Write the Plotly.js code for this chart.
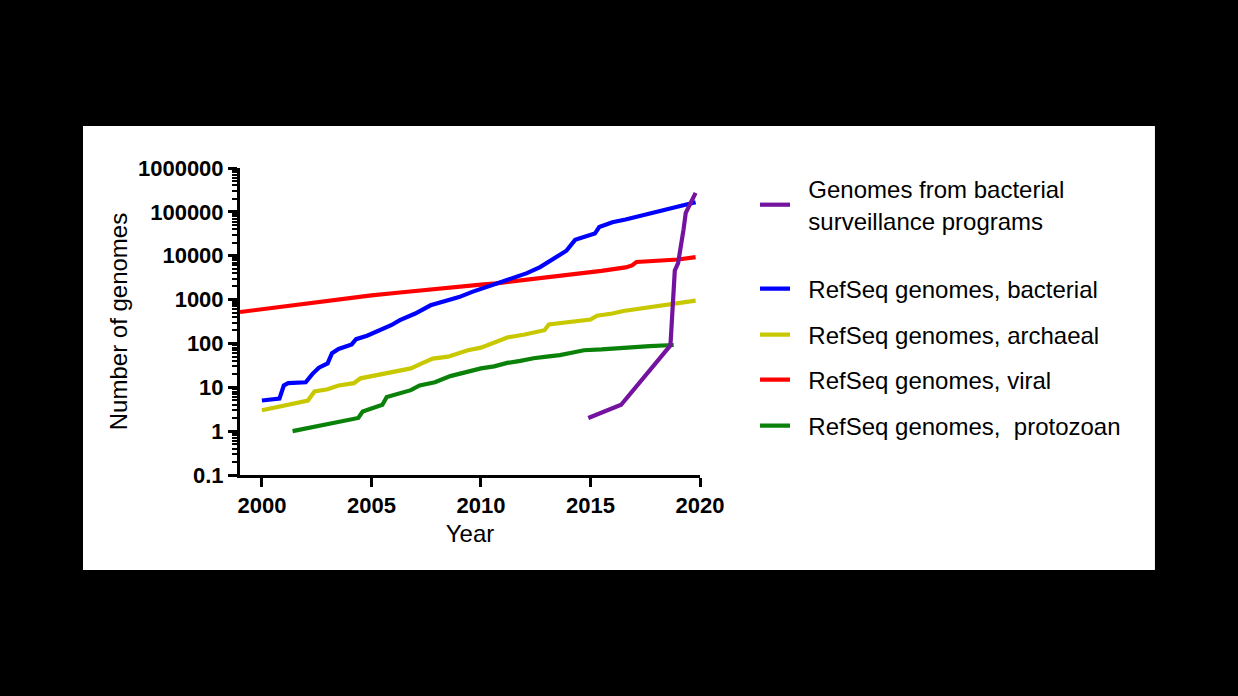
<!DOCTYPE html>
<html>
<head>
<meta charset="utf-8">
<script src="https://cdn.plot.ly/plotly-3.0.1.min.js"></script>
<style>html,body{margin:0;padding:0;background:#000;}</style>
</head>
<body>
<div id="chart" style="width:1238px;height:696px;"></div>
<script>
// ---- Data ----
const purX = [2014.9, 2016.4, 2018.65, 2018.75, 2018.85, 2019.0, 2019.1, 2019.25, 2019.35, 2019.55, 2019.8];
const purY = [2, 4, 90, 600, 4600, 6800, 13000, 40000, 95000, 160000, 270000];

const bluX = [2000.0, 2000.8, 2001.0, 2001.2, 2002.0, 2002.3, 2002.6, 2003.0, 2003.2, 2003.5, 2004.1, 2004.3, 2004.8, 2005.3, 2005.9, 2006.3, 2007.0, 2007.7, 2008.3, 2009.0, 2009.6, 2010.2, 2010.7, 2011.4, 2012.1, 2012.7, 2013.2, 2013.9, 2014.3, 2015.2, 2015.4, 2016.0, 2016.6, 2017.2, 2018.0, 2018.7, 2019.3, 2019.8];
const bluY = [5, 5.5, 11, 12.5, 13, 20, 28, 35, 60, 75, 95, 125, 150, 190, 260, 340, 480, 740, 900, 1140, 1500, 1900, 2350, 3200, 4000, 5500, 7900, 13000, 23000, 32000, 45000, 58000, 67000, 80000, 100000, 120000, 145000, 165000];

const yelX = [2000.0, 2002.1, 2002.4, 2003.0, 2003.5, 2004.2, 2004.5, 2005.3, 2006.0, 2006.8, 2007.3, 2007.8, 2008.5, 2009.4, 2010.0, 2010.9, 2011.2, 2012.0, 2012.9, 2013.1, 2014.0, 2015.0, 2015.3, 2016.0, 2016.5, 2017.3, 2018.0, 2019.0, 2019.8];
const yelY = [3, 5, 8, 9, 11, 12.4, 16, 19, 23, 27, 35, 45, 50, 70, 80, 118, 137, 160, 200, 270, 300, 350, 430, 480, 550, 620, 700, 800, 950];

const redX = [1999.0, 2001.0, 2003.1, 2005.0, 2006.3, 2008.0, 2010.0, 2010.7, 2012.0, 2013.0, 2014.2, 2015.5, 2016.6, 2016.9, 2017.1, 2018.0, 2019.0, 2019.8];
const redY = [520, 700, 960, 1250, 1450, 1800, 2200, 2350, 2800, 3100, 3600, 4500, 5400, 6000, 7200, 7600, 8200, 9300];

const grnX = [2001.4, 2004.4, 2004.6, 2004.9, 2005.5, 2005.7, 2006.3, 2006.8, 2007.2, 2007.9, 2008.6, 2009.3, 2010.0, 2010.6, 2011.2, 2011.8, 2012.4, 2013.0, 2013.6, 2014.2, 2014.7, 2015.5, 2016.2, 2017.0, 2017.7, 2018.8];
const grnY = [1, 2, 2.8, 3.2, 4, 6, 7.5, 8.6, 11, 13, 18, 22, 27, 30, 36, 40, 46, 50, 54, 62, 70, 73, 78, 82, 87, 92];

const seriesNames = [
  "&nbsp;&nbsp;Genomes from bacterial<br>&nbsp;&nbsp;surveillance programs",
  "&nbsp;&nbsp;RefSeq genomes, bacterial",
  "&nbsp;&nbsp;RefSeq genomes, archaeal",
  "&nbsp;&nbsp;RefSeq genomes, viral",
  "&nbsp;&nbsp;RefSeq genomes,&nbsp; protozoan"
];
const xTickVals = [2000, 2005, 2010, 2015, 2020];
const xTickText = ["2000", "2005", "2010", "2015", "2020"];
const yTickVals = [0.1, 1, 10, 100, 1000, 10000, 100000, 1000000];
const yTickText = ["0.1", "1", "10", "100", "1000", "10000", "100000", "1000000"];

// minor log ticks (2..9 in each decade)
const yMinor = [];
yTickVals.slice(0, -1).forEach(d => { for (let k = 2; k <= 9; k++) yMinor.push(d * k); });

const FONT = "Liberation Sans, Arial, sans-serif";
const LW = 4.2;

function tr(x, y, name, color, leg) {
  return {x: x, y: y, name: name, type: 'scatter', mode: 'lines',
    line: {color: color, width: LW}, legend: leg, hoverinfo: 'skip'};
}

const data = [
  tr(redX, redY, seriesNames[3], '#FF0000', 'legend4'),
  tr(yelX, yelY, seriesNames[2], '#C8C800', 'legend3'),
  tr(grnX, grnY, seriesNames[4], '#0A820A', 'legend5'),
  tr(bluX, bluY, seriesNames[1], '#0000FF', 'legend2'),
  tr(purX, purY, seriesNames[0], '#7413A0', 'legend')
];

function leg(y) {
  return {x: 1.1196, y: y, xanchor: 'left', yanchor: 'middle', bgcolor: 'rgba(0,0,0,0)',
    font: {family: FONT, size: 24, color: '#000'}};
}

const layout = {
  width: 1238, height: 696,
  paper_bgcolor: '#000000', plot_bgcolor: '#FFFFFF',
  margin: {l: 240, r: 538, t: 168, b: 221, pad: 0},
  showlegend: true,
  legend: leg(0.8795),
  legend2: leg(0.6059),
  legend3: leg(0.456),
  legend4: leg(0.3094),
  legend5: leg(0.1596),
  xaxis: {
    range: [1999, 2020], showgrid: false, zeroline: false,
    showline: true, linecolor: '#000', linewidth: 3,
    ticks: 'outside', ticklen: 9, tickwidth: 3, tickcolor: '#000',
    tickmode: 'array', tickvals: xTickVals, ticktext: xTickText,
    tickfont: {family: FONT, size: 22, color: '#000', weight: 'bold'},
    title: {text: 'Year', font: {family: FONT, size: 24, color: '#000'}, standoff: 8}
  },
  yaxis: {
    type: 'log', range: [-1, 6], showgrid: false, zeroline: false,
    showline: true, linecolor: '#000', linewidth: 3,
    ticks: 'outside', ticklen: 9, tickwidth: 3, tickcolor: '#000',
    tickmode: 'array', tickvals: yTickVals, ticktext: yTickText,
    minor: {tickmode: 'array', tickvals: yMinor, ticks: 'outside', ticklen: 5, tickwidth: 2, tickcolor: '#000', showgrid: false},
    tickfont: {family: FONT, size: 22, color: '#000', weight: 'bold'},
    title: {text: 'Number of genomes', font: {family: FONT, size: 24, color: '#000'}, standoff: 4}
  },
  shapes: [{
    type: 'rect', xref: 'paper', yref: 'paper', layer: 'below',
    x0: -0.3413, x1: 1.989, y0: -0.3094, y1: 1.1368,
    fillcolor: '#FFFFFF', line: {width: 0}
  }]
};

Plotly.newPlot('chart', data, layout, {displayModeBar: false, staticPlot: true});
</script>
</body>
</html>
